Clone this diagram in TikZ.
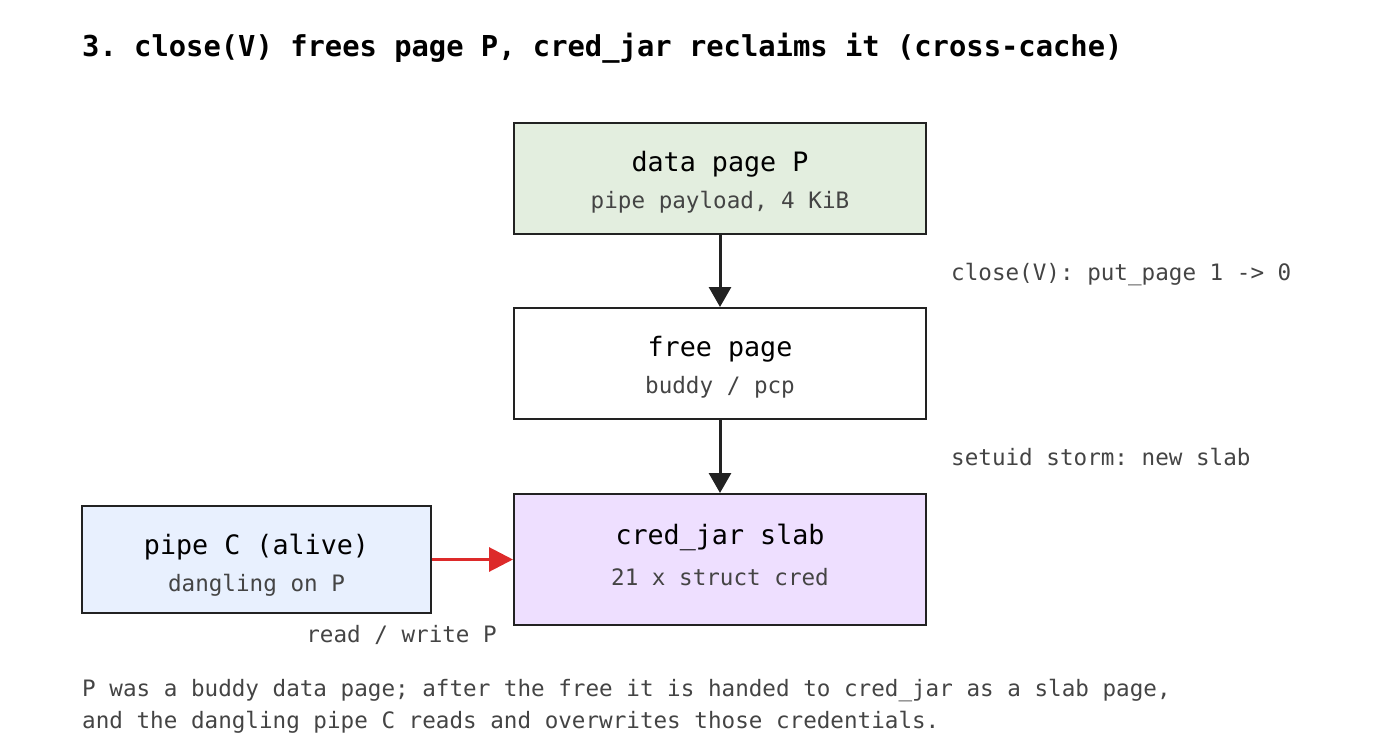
\documentclass[tikz,border=0pt]{standalone}
\usepackage{fontspec}
\setmonofont{DejaVu Sans Mono}
\usetikzlibrary{arrows.meta}
\definecolor{boxline}{HTML}{222222}
\definecolor{subgrey}{HTML}{444444}
\definecolor{greenfill}{HTML}{E3EEDF}
\definecolor{purplefill}{HTML}{EEDFFF}
\definecolor{bluefill}{HTML}{E8F0FE}
\definecolor{redarrow}{HTML}{DD2A2A}
\tikzset{
  box/.style={draw=boxline, line width=2pt, rectangle, inner sep=0pt},
  ttl/.style={font=\ttfamily\fontsize{26.7}{30}\selectfont, text=black, anchor=base, inner sep=0pt},
  sub/.style={font=\ttfamily\fontsize{22.6}{26}\selectfont, text=subgrey, anchor=base, inner sep=0pt},
  lbl/.style={font=\ttfamily\fontsize{22.6}{26}\selectfont, text=subgrey, inner sep=0pt},
  flow/.style={draw=boxline, line width=3pt, -{Triangle[length=20pt,width=22pt]}},
  redflow/.style={draw=redarrow, line width=3pt, -{Triangle[length=24pt,width=24pt]}},
}
\begin{document}
\begin{tikzpicture}[x=1pt,y=-1pt]
\useasboundingbox (0,0) rectangle (1400,741);
\node[font=\ttfamily\bfseries\fontsize{28.8}{32}\selectfont, anchor=base west, inner sep=0pt] (title) at (82,57) {3. close(V) frees page P, cred\_jar reclaims it (cross-cache)};

\node[box, fill=greenfill, minimum width=412pt, minimum height=111pt] (dp) at (720,178.5) {};
\node[ttl] (dpt) at (720,171.6) {data page P};
\node[sub] (dps) at (720,208) {pipe payload, 4 KiB};

\node[box, fill=white, minimum width=412pt, minimum height=111pt] (fp) at (720,363.5) {};
\node[ttl] (fpt) at (720,356.6) {free page};
\node[sub] (fps) at (720,393) {buddy / pcp};

\node[box, fill=purplefill, minimum width=412pt, minimum height=131pt] (cj) at (720,559.5) {};
\node[ttl] (cjt) at (720,544.6) {cred\_jar slab};
\node[sub] (cjs) at (720,585) {21 x struct cred};

\node[box, fill=bluefill, minimum width=349pt, minimum height=107pt] (pc) at (256.5,559.5) {};
\node[ttl] (pct) at (256.5,554.6) {pipe C (alive)};
\node[sub] (pcs) at (256.5,591) {dangling on P};

\draw[flow] (dp.south) -- (fp.north);
\draw[flow] (fp.south) -- (cj.north);
\draw[redflow] (pc.east) -- (cj.west);

\node[lbl, anchor=base west] (l1) at (951,280) {close(V): put\_page 1 -> 0};
\node[lbl, anchor=base west] (l2) at (951,465) {setuid storm: new slab};
\node[lbl, anchor=base east] (l3) at (497,642) {read / write P};

\node[lbl, anchor=base west] (f1) at (82,696) {P was a buddy data page; after the free it is handed to cred\_jar as a slab page,};
\node[lbl, anchor=base west] (f2) at (82,728) {and the dangling pipe C reads and overwrites those credentials.};
\end{tikzpicture}
\end{document}
